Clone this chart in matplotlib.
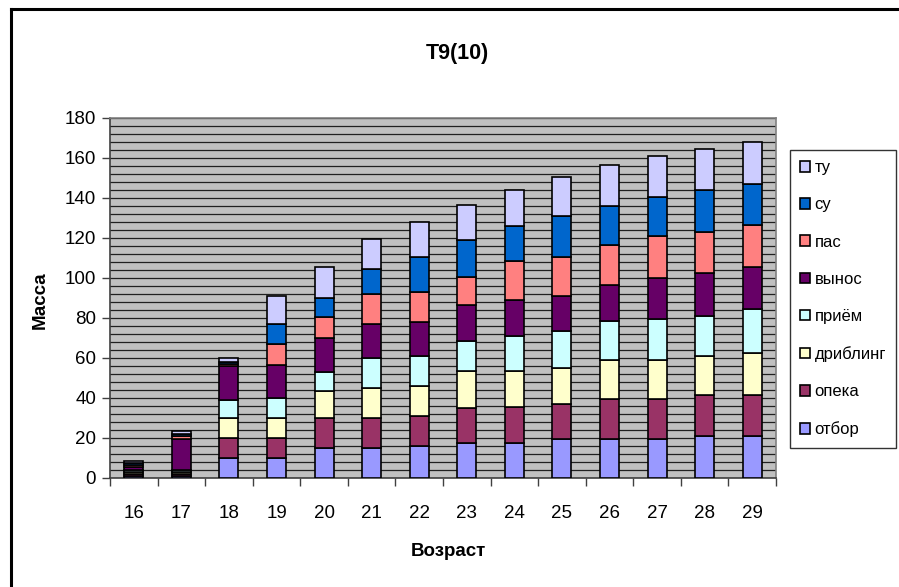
import matplotlib
matplotlib.use("Agg")
import matplotlib.pyplot as plt
import numpy as np
from matplotlib.lines import Line2D
from matplotlib.patches import Patch
from matplotlib.ticker import MultipleLocator, FixedLocator

plt.rcParams['font.family'] = ['Liberation Sans', 'DejaVu Sans']

ages = ['16', '17', '18', '19', '20', '21', '22', '23', '24', '25', '26', '27', '28', '29']
series_names = ['отбор', 'опека', 'дриблинг', 'приём', 'вынос', 'пас', 'су', 'ту']
colors = ['#9999FF', '#993366', '#FFFFCC', '#CCFFFF', '#660066', '#FF8080', '#0066CC', '#CCCCFF']

otbor    = [1, 1, 10, 10, 15, 15, 16, 17.5, 17.5, 19.5, 19.5, 19.5, 21, 21]
opeka    = [1, 1, 10, 10, 15, 15, 15, 17.5, 18, 17.5, 20, 20, 20.25, 20.25]
dribling = [1, 1, 10, 10, 13.5, 15, 15, 18.5, 18, 17.75, 19.5, 19.5, 19.5, 21.25]
priem    = [1, 1, 9, 10, 9.5, 15, 15, 15, 17.5, 18.5, 19.5, 20.25, 20.25, 22]
vynos    = [1.2, 15.5, 17, 16.5, 17, 17, 17, 18, 18, 17.5, 17.75, 20.5, 21.25, 20.75]
pas      = [1, 1.5, 1, 10.5, 10.5, 15, 15, 14, 19.5, 19.5, 20, 21, 20.5, 21]
su       = [1, 1, 1, 10, 9.5, 12.5, 17.5, 18.5, 17.5, 20.5, 19.75, 19.5, 21, 20.5]
tu       = [1, 1.25, 2, 14, 15.5, 15, 17.5, 17.5, 18, 19.5, 20.5, 20.5, 20.5, 21.25]

series = [otbor, opeka, dribling, priem, vynos, pas, su, tu]

W, H = 899, 587
fig = plt.figure(figsize=(W / 100, H / 100), dpi=100)
ax = fig.add_axes([110 / W, 1 - 477.5 / H, (776 - 110) / W, (477.5 - 118) / H])
ax.set_facecolor('#C0C0C0')

x = np.arange(len(ages))
bottom = np.zeros(len(ages))
for vals, name, col in zip(series, series_names, colors):
    v = np.array(vals, dtype=float)
    ax.bar(x, v, width=0.4, bottom=bottom, color=col, edgecolor='black',
           linewidth=1.2, label=name, zorder=3)
    bottom += v

ax.set_xlim(-0.5, len(ages) - 0.5)
ax.set_ylim(0, 180)
ax.yaxis.set_major_locator(MultipleLocator(20))
ax.yaxis.set_minor_locator(MultipleLocator(4))
ax.grid(which='both', axis='y', color='#202020', linewidth=0.9, zorder=1)
ax.set_axisbelow(True)

ax.set_xticks(x)
ax.set_xticklabels(ages, fontsize=13.5)
ax.xaxis.set_minor_locator(FixedLocator(np.arange(-0.5, len(ages), 1.0)))
ax.tick_params(axis='x', which='major', length=0, pad=20)
ax.tick_params(axis='x', which='minor', length=6, width=1, color='#404040', direction='out')
ax.tick_params(axis='y', which='major', length=6, width=1, color='#404040', labelsize=13.5, pad=4)
ax.tick_params(axis='y', which='minor', length=0)

for s in ['left', 'bottom']:
    ax.spines[s].set_color('#404040')
    ax.spines[s].set_linewidth(1.2)
for s in ['top', 'right']:
    ax.spines[s].set_color('#808080')
    ax.spines[s].set_linewidth(1.2)

fig.text(457 / W, 1 - 53 / H, 'T9(10)', fontsize=15.5, fontweight='bold', ha='center', va='center')
fig.text(40 / W, 1 - 300 / H, 'Масса', fontsize=13.5, fontweight='bold', rotation=90,
         ha='center', va='center')
fig.text(448 / W, 1 - 551 / H, 'Возраст', fontsize=13.5, fontweight='bold', ha='center', va='center')

handles = [Patch(facecolor=c, edgecolor='black', linewidth=1.2) for c in colors][::-1]
labels = series_names[::-1]
leg = fig.legend(handles, labels, loc='upper left', bbox_to_anchor=(790 / W, 1 - 150 / H),
                 fontsize=12, frameon=True, fancybox=False, edgecolor='black',
                 handlelength=0.6, handleheight=0.6, handletextpad=0.25,
                 labelspacing=1.33, borderpad=0.62, borderaxespad=0)
leg.get_frame().set_linewidth(1.0)

fig.add_artist(Line2D([11 / W, 11 / W], [1 - 9 / H, 0], transform=fig.transFigure,
                      color='black', linewidth=2.2))
fig.add_artist(Line2D([11 / W, 1], [1 - 9 / H, 1 - 9 / H], transform=fig.transFigure,
                      color='black', linewidth=2.2))

fig.savefig('out.png', dpi=100)
